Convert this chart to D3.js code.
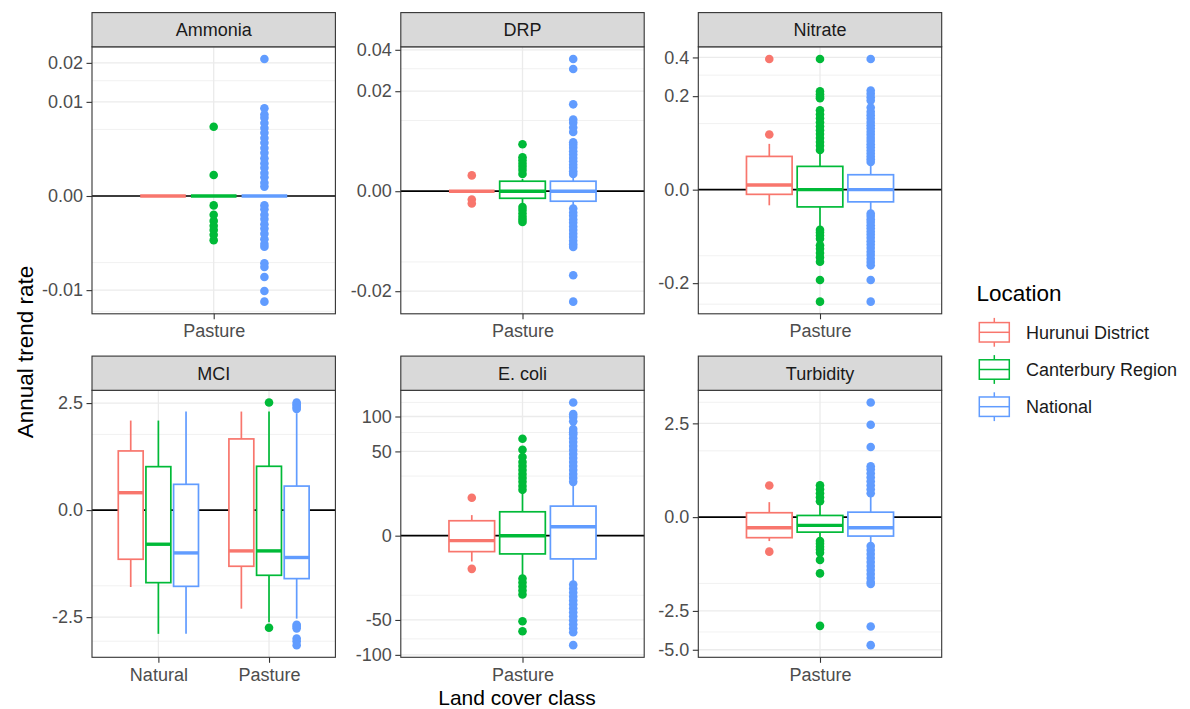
<!DOCTYPE html>
<html>
<head>
<meta charset="utf-8">
<script src="https://cdn.jsdelivr.net/npm/d3@7"></script>
<style>
  body { margin: 0; background: #fff; }
  text { font-family: "Liberation Sans", Arial, sans-serif; }
</style>
</head>
<body>
<div id="wrapper"></div>
<script>
const locations = ["Hurunui District", "Canterbury Region", "National"];
const colours = ["#F8766D", "#00BA38", "#619CFF"];

// box rows: [category, location index, lower whisker, q1, median, q3, upper whisker]
// outlier rows: [category, location index, [values]]
const ammoniaBoxes = [
  ["Pasture", 0, 0, 0, 0, 0, 0],
  ["Pasture", 1, 0, 0, 0, 0, 0],
  ["Pasture", 2, 0, 0, 0, 0, 0]
];
const ammoniaOutliers = [
  ["Pasture", 1, [0.0054, 0.0005, -0.0001, -0.0004, -0.0007, -0.0010, -0.0013, -0.0017, -0.0022]],
  ["Pasture", 2, [0.0212, 0.0087, 0.0075, 0.0069, 0.0060, 0.0052, 0.0045, 0.0038, 0.0032, 0.0026, 0.0021,
    0.0016, 0.0012, 0.0009, 0.0006, 0.0004, 0.0002, 0.0001, -0.0001, -0.0002, -0.0004, -0.0006, -0.0009,
    -0.0012, -0.0016, -0.0021, -0.0026, -0.0029, -0.0051, -0.0057, -0.0074, -0.0102, -0.0126]]
];
const ammoniaTicks = [-0.01, 0, 0.01, 0.02];
const ammoniaTickLabels = ["-0.01", "0.00", "0.01", "0.02"];

const drpBoxes = [
  ["Pasture", 0, 0, 0, 0, 0, 0],
  ["Pasture", 1, -0.0004, -0.0001, 0, 0.0002, 0.0003],
  ["Pasture", 2, -0.0005, -0.0002, 0, 0.0002, 0.0005]
];
const drpOutliers = [
  ["Pasture", 0, [0.0005, -0.00014, -0.0003]],
  ["Pasture", 1, [0.0044, 0.0023, 0.0019, 0.0015, 0.0012, 0.0009, 0.0006, -0.0005, -0.0007, -0.0010,
    -0.0013, -0.0016, -0.0019]],
  ["Pasture", 2, [0.035, 0.0299, 0.0151, 0.0103, 0.0094, 0.0081, 0.0070, 0.0048, 0.0043, 0.0038, 0.0032,
    0.0027, 0.0022, 0.0018, 0.0014, 0.0011, 0.0008, 0.0006, -0.0006, -0.0009, -0.0012, -0.0016, -0.0020,
    -0.0025, -0.0030, -0.0036, -0.0042, -0.0049, -0.0056, -0.0062, -0.0141, -0.0244]]
];
const drpTicks = [-0.02, 0, 0.02, 0.04];
const drpTickLabels = ["-0.02", "0.00", "0.02", "0.04"];

const nitrateBoxes = [
  ["Pasture", 0, -0.0056, -0.0005, 0.0005, 0.0253, 0.048],
  ["Pasture", 1, -0.0347, -0.0068, 0, 0.0124, 0.0324],
  ["Pasture", 2, -0.0113, -0.0034, 0, 0.0051, 0.0134]
];
const nitrateOutliers = [
  ["Pasture", 0, [0.391, 0.0697]],
  ["Pasture", 1, [0.391, 0.221, 0.208, 0.197, 0.191, 0.144, 0.130, 0.117, 0.104, 0.092, 0.081, 0.071,
    0.061, 0.052, 0.044, 0.036, -0.037, -0.042, -0.048, -0.055, -0.071, -0.080, -0.092, -0.105, -0.119,
    -0.187, -0.287]],
  ["Pasture", 2, [0.391, 0.225, 0.21, 0.195, 0.182, 0.154, 0.139, 0.127, 0.116, 0.105, 0.095, 0.086,
    0.077, 0.069, 0.061, 0.054, 0.047, 0.041, 0.035, 0.030, 0.025, 0.021, 0.0175, -0.013, -0.016, -0.020,
    -0.024, -0.029, -0.034, -0.040, -0.046, -0.053, -0.061, -0.069, -0.078, -0.088, -0.098, -0.109,
    -0.120, -0.131, -0.187, -0.287]]
];
const nitrateTicks = [-0.2, 0, 0.2, 0.4];
const nitrateTickLabels = ["-0.2", "0.0", "0.2", "0.4"];

const mciBoxes = [
  ["Natural", 0, -1.29, -0.527, 0.066, 0.764, 1.75],
  ["Natural", 1, -3.34, -1.148, -0.254, 0.412, 1.75],
  ["Natural", 2, -3.34, -1.268, -0.40, 0.145, 2.12],
  ["Pasture", 0, -2.12, -0.688, -0.363, 1.106, 2.12],
  ["Pasture", 1, -2.74, -0.927, -0.363, 0.419, 2.12],
  ["Pasture", 2, -2.57, -1.024, -0.49, 0.126, 2.05]
];
const mciOutliers = [
  ["Pasture", 1, [2.527, -3.02]],
  ["Pasture", 2, [2.53, 2.45, 2.38, 2.3, 2.23, -2.87, -2.95, -3.05, -3.6, -3.75, -3.98]]
];
const mciTicks = [-2.5, 0, 2.5];
const mciTickLabels = ["-2.5", "0.0", "2.5"];

const ecoliBoxes = [
  ["Pasture", 0, -4.7, -1.79, -0.17, 1.57, 2.98],
  ["Pasture", 1, -11.7, -2.34, 0, 4.02, 13.5],
  ["Pasture", 2, -15.9, -3.8, 0.565, 6.15, 19.1]
];
const ecoliOutliers = [
  ["Pasture", 0, [10.1, -7.75]],
  ["Pasture", 1, [66.1, 52, 43.6, 38.2, 34.2, 30.4, 26.8, 23.5, 20.4, 17.4, 14.8, -12.9, -15.4, -18.2,
    -21.1, -24.3, -51.6, -64.3]],
  ["Pasture", 2, [125, 104, 99, 92, 80, 75.5, 72.6, 67.0, 61.7, 56.5, 51.6, 46.9, 42.5, 38.2, 34.2, 30.4,
    26.8, 23.5, 20.4, -16.8, -19.6, -22.7, -26.0, -29.5, -33.2, -37.2, -41.4, -45.8, -50.4, -55.3, -60.4,
    -65.7, -84.4]]
];
const ecoliTicks = [-100, -50, 0, 50, 100];
const ecoliTickLabels = ["-100", "-50", "0", "50", "100"];

const turbidityBoxes = [
  ["Pasture", 0, -0.163, -0.12, -0.032, 0.0055, 0.064],
  ["Pasture", 1, -0.141, -0.064, -0.0195, 0.0008, 0.053],
  ["Pasture", 2, -0.211, -0.102, -0.032, 0.007, 0.146]
];
const turbidityOutliers = [
  ["Pasture", 0, [0.284, -0.339]],
  ["Pasture", 1, [0.290, 0.222, 0.163, 0.113, 0.072, -0.163, -0.2, -0.25, -0.3, -0.36, -0.52, -0.90, -3.36]],
  ["Pasture", 2, [3.74, 2.43, 1.40, 0.736, 0.652, 0.548, 0.453, 0.367, 0.290, 0.222, 0.163, -0.238, -0.308,
    -0.387, -0.476, -0.573, -0.679, -0.795, -0.919, -1.053, -1.195, -1.27, -3.4, -4.66]]
];
const turbidityTicks = [-5, -2.5, 0, 2.5];
const turbidityTickLabels = ["-5.0", "-2.5", "0.0", "2.5"];

const panels = [
  { name: "Ammonia", cats: ["Pasture"], boxes: ammoniaBoxes, outliers: ammoniaOutliers, ticks: ammoniaTicks, labels: ammoniaTickLabels },
  { name: "DRP", cats: ["Pasture"], boxes: drpBoxes, outliers: drpOutliers, ticks: drpTicks, labels: drpTickLabels },
  { name: "Nitrate", cats: ["Pasture"], boxes: nitrateBoxes, outliers: nitrateOutliers, ticks: nitrateTicks, labels: nitrateTickLabels },
  { name: "MCI", cats: ["Natural", "Pasture"], boxes: mciBoxes, outliers: mciOutliers, ticks: mciTicks, labels: mciTickLabels },
  { name: "E. coli", cats: ["Pasture"], boxes: ecoliBoxes, outliers: ecoliOutliers, ticks: ecoliTicks, labels: ecoliTickLabels },
  { name: "Turbidity", cats: ["Pasture"], boxes: turbidityBoxes, outliers: turbidityOutliers, ticks: turbidityTicks, labels: turbidityTickLabels }
];

let dimensions = {
  width: 1190,
  height: 709,
  colX: [92, 400.8, 698.3],
  rowY: [46.8, 390.3],
  panelWidth: 243.4,
  panelHeight: 267,
  stripHeight: 34.2,
};

const svg = d3.select("#wrapper")
  .append("svg")
  .attr("width", dimensions.width)
  .attr("height", dimensions.height);

// signed sqrt limits, padded 5% in transformed space
function paddedSqrtDomain(values) {
  const f = v => Math.sign(v) * Math.sqrt(Math.abs(v));
  const inv = u => Math.sign(u) * u * u;
  const [a, b] = d3.extent(values, f);
  const pad = (b - a) * 0.05;
  return [inv(a - pad), inv(b + pad)];
}

panels.forEach((p, i) => {
  const col = i % 3;
  const row = Math.floor(i / 3);
  const left = dimensions.colX[col];
  const top = dimensions.rowY[row];
  const W = dimensions.panelWidth;
  const H = dimensions.panelHeight;

  const g = svg.append("g").attr("transform", `translate(${left},${top})`);

  const allValues = p.boxes.flatMap(b => b.slice(2)).concat(p.outliers.flatMap(o => o[2]));
  const dom = paddedSqrtDomain(allValues);
  const yScale = d3.scaleSqrt().domain(dom).range([H, 0]);
  const xScale = d3.scalePoint().domain(p.cats).range([0, W]).padding(0.6);
  const slot = xScale.step() * 0.25;
  const boxW = slot * 0.9;

  // minor gridlines halfway between major breaks
  const step = p.ticks[1] - p.ticks[0];
  const minors = p.ticks.map(t => t - step / 2)
    .concat([p.ticks[p.ticks.length - 1] + step / 2])
    .filter(v => v >= dom[0] && v <= dom[1]);

  g.append("rect").attr("width", W).attr("height", H).attr("fill", "#fff");

  g.selectAll(".minor").data(minors).join("line")
    .attr("x1", 0).attr("x2", W)
    .attr("y1", d => yScale(d)).attr("y2", d => yScale(d))
    .attr("stroke", "#ebebeb").attr("stroke-width", 0.7);

  g.selectAll(".major").data(p.ticks).join("line")
    .attr("x1", 0).attr("x2", W)
    .attr("y1", d => yScale(d)).attr("y2", d => yScale(d))
    .attr("stroke", "#ebebeb").attr("stroke-width", 1.3);

  g.selectAll(".vgrid").data(p.cats).join("line")
    .attr("x1", d => xScale(d)).attr("x2", d => xScale(d))
    .attr("y1", 0).attr("y2", H)
    .attr("stroke", "#ebebeb").attr("stroke-width", 1.3);

  // reference line at zero
  g.append("line")
    .attr("x1", 0).attr("x2", W)
    .attr("y1", yScale(0)).attr("y2", yScale(0))
    .attr("stroke", "#000").attr("stroke-width", 1.7);

  // outliers
  p.outliers.forEach(o => {
    const cx = xScale(o[0]) + (o[1] - 1) * slot;
    g.append("g").selectAll("circle").data(o[2]).join("circle")
      .attr("cx", cx)
      .attr("cy", d => yScale(d))
      .attr("r", 4.3)
      .attr("fill", colours[o[1]]);
  });

  // boxes
  p.boxes.forEach(b => {
    const [cat, loc, lo, q1, med, q3, hi] = b;
    const cx = xScale(cat) + (loc - 1) * slot;
    const c = colours[loc];
    const bg = g.append("g");
    bg.append("line")
      .attr("x1", cx).attr("x2", cx)
      .attr("y1", yScale(hi)).attr("y2", yScale(q3))
      .attr("stroke", c).attr("stroke-width", 1.7);
    bg.append("line")
      .attr("x1", cx).attr("x2", cx)
      .attr("y1", yScale(q1)).attr("y2", yScale(lo))
      .attr("stroke", c).attr("stroke-width", 1.7);
    bg.append("rect")
      .attr("x", cx - boxW / 2)
      .attr("y", yScale(q3))
      .attr("width", boxW)
      .attr("height", yScale(q1) - yScale(q3))
      .attr("fill", "#fff")
      .attr("stroke", c).attr("stroke-width", 1.7);
    bg.append("line")
      .attr("x1", cx - boxW / 2).attr("x2", cx + boxW / 2)
      .attr("y1", yScale(med)).attr("y2", yScale(med))
      .attr("stroke", c).attr("stroke-width", 3.4);
  });

  // panel border
  g.append("rect").attr("width", W).attr("height", H)
    .attr("fill", "none").attr("stroke", "#333333").attr("stroke-width", 1.1);

  // strip
  g.append("rect")
    .attr("x", 0).attr("y", -dimensions.stripHeight)
    .attr("width", W).attr("height", dimensions.stripHeight)
    .attr("fill", "#d9d9d9").attr("stroke", "#333333").attr("stroke-width", 1.1);
  g.append("text")
    .attr("x", W / 2).attr("y", -dimensions.stripHeight / 2)
    .attr("dy", "0.35em")
    .attr("text-anchor", "middle")
    .attr("font-size", 18)
    .attr("fill", "#1a1a1a")
    .text(p.name);

  // axes
  const yAxis = d3.axisLeft(yScale)
    .tickValues(p.ticks)
    .tickFormat((d, k) => p.labels[k])
    .tickSize(5.5)
    .tickPadding(3.5);
  const ya = g.append("g").call(yAxis);
  const xAxis = d3.axisBottom(xScale).tickSize(5.5).tickPadding(5.2);
  const xa = g.append("g").attr("transform", `translate(0,${H})`).call(xAxis);
  [ya, xa].forEach(a => {
    a.select(".domain").remove();
    a.selectAll(".tick line").attr("stroke", "#333333").attr("stroke-width", 1.1);
    a.selectAll(".tick text")
      .attr("fill", "#4d4d4d")
      .attr("font-size", 18)
      .style("font-family", '"Liberation Sans", Arial, sans-serif');
  });
});

// axis titles
svg.append("text")
  .attr("x", 517).attr("y", 704.5)
  .attr("text-anchor", "middle")
  .attr("font-size", 21)
  .text("Land cover class");

svg.append("text")
  .attr("transform", "translate(33,352) rotate(-90)")
  .attr("text-anchor", "middle")
  .attr("font-size", 22.5)
  .text("Annual trend rate");

// legend
const legend = svg.append("g");
legend.append("text")
  .attr("x", 976.5).attr("y", 300.5)
  .attr("font-size", 22.5)
  .text("Location");

const keyY = d3.scalePoint().domain(locations).range([332.3, 406.7]);
const keyH = 36;
const keys = legend.selectAll(".key").data(locations).join("g")
  .attr("transform", d => `translate(994.3,${keyY(d)})`);
keys.append("line")
  .attr("x1", 0).attr("x2", 0)
  .attr("y1", -keyH * 0.4).attr("y2", keyH * 0.4)
  .attr("stroke", (d, k) => colours[k]).attr("stroke-width", 1.5);
keys.append("rect")
  .attr("x", -15).attr("y", -keyH * 0.27)
  .attr("width", 30).attr("height", keyH * 0.54)
  .attr("fill", "#fff")
  .attr("stroke", (d, k) => colours[k]).attr("stroke-width", 1.5);
keys.append("line")
  .attr("x1", -15).attr("x2", 15)
  .attr("y1", 0).attr("y2", 0)
  .attr("stroke", (d, k) => colours[k]).attr("stroke-width", 1.5);
keys.append("text")
  .attr("x", 31.7).attr("dy", "0.35em")
  .attr("font-size", 18)
  .attr("fill", "#1a1a1a")
  .text(d => d);
</script>
</body>
</html>
